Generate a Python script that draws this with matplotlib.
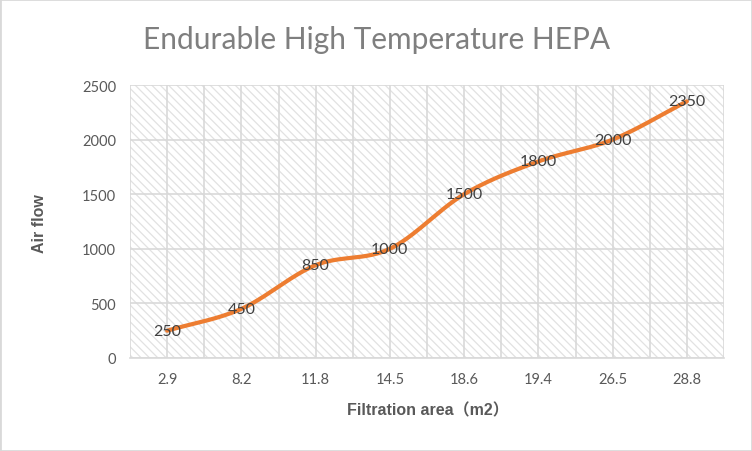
import numpy as np
import matplotlib
matplotlib.use("Agg")
import matplotlib.pyplot as plt
from matplotlib.patches import Rectangle

areas = ['2.9', '8.2', '11.8', '14.5', '18.6', '19.4', '26.5', '28.8']
air_flow = [250, 450, 850, 1000, 1500, 1800, 2000, 2350]
y_ticks = [0, 500, 1000, 1500, 2000, 2500]

plt.rcParams['font.family'] = ['Lato', 'Noto Sans CJK SC', 'DejaVu Sans']
plt.rcParams['hatch.color'] = '#e2e2e2'
plt.rcParams['hatch.linewidth'] = 0.9


def smooth(x, y, n=30):
    # catmull-rom style curve like excel's smoothed line
    x = np.asarray(x, float)
    y = np.asarray(y, float)
    px = np.concatenate([[2 * x[0] - x[1]], x, [2 * x[-1] - x[-2]]])
    py = np.concatenate([[2 * y[0] - y[1]], y, [2 * y[-1] - y[-2]]])
    xs, ys = [], []
    t = np.linspace(0, 1, n)
    for i in range(1, len(px) - 2):
        p0, p1, p2, p3 = [np.array([px[j], py[j]]) for j in range(i - 1, i + 3)]
        c1 = p1 + (p2 - p0) / 6
        c2 = p2 - (p3 - p1) / 6
        b = ((1 - t) ** 3)[:, None] * p1 + (3 * (1 - t) ** 2 * t)[:, None] * c1 \
            + (3 * (1 - t) * t ** 2)[:, None] * c2 + (t ** 3)[:, None] * p2
        xs.extend(b[:, 0])
        ys.extend(b[:, 1])
    return xs, ys


fig = plt.figure(figsize=(7.52, 4.52), dpi=100)
fig.patches.append(Rectangle((0, 0), 1, 1, transform=fig.transFigure,
                             fill=False, edgecolor='#d9d9d9', linewidth=2))
ax = fig.add_axes([130 / 752, 1 - 359 / 452, 594 / 752, 273 / 452])

ax.add_patch(Rectangle((0, 0), 1, 1, transform=ax.transAxes, facecolor='white',
                       hatch='\\\\\\\\', edgecolor='#e2e2e2', linewidth=0, zorder=0))

xi = np.arange(len(areas))
ax.set_xlim(-0.5, len(areas) - 0.5)
ax.set_ylim(0, 2500)

for gx in np.arange(-0.5, len(areas), 0.5):
    ax.axvline(gx, color='#d9d9d9', linewidth=1.2, zorder=1)
for gy in y_ticks:
    ax.axhline(gy, color='#d9d9d9', linewidth=1.2, zorder=1)

sx, sy = smooth(xi, air_flow)
ax.plot(sx, sy, color='#ed7d31', linewidth=3, solid_capstyle='round', zorder=3)

for x, v in zip(xi, air_flow):
    ax.text(x, v, str(v), ha='center', va='center', fontsize=11.5,
            color='#404040', zorder=4)

ax.set_xticks(xi)
ax.set_xticklabels(areas)
ax.set_yticks(y_ticks)
ax.tick_params(length=0, labelsize=10.5, labelcolor='#595959', pad=10)
for s in ['top', 'right', 'left']:
    ax.spines[s].set_visible(False)
ax.spines['bottom'].set_color('#d9d9d9')
ax.spines['bottom'].set_linewidth(1.2)

fig.text(377 / 752, 1 - 40 / 452, 'Endurable High Temperature HEPA', ha='center',
         va='center', fontsize=21.5, color='#7f7f7f')
fig.text(428 / 752, 1 - 411 / 452, 'Filtration area（m2）', ha='center', va='center',
         fontsize=11.5, fontweight='bold', color='#595959',
         family=['Liberation Sans', 'Noto Sans CJK SC'])
fig.text(40 / 752, 1 - 224 / 452, 'Air flow', ha='center', va='center', rotation=90,
         fontsize=11.5, fontweight='bold', color='#595959',
         family=['Liberation Sans', 'Noto Sans CJK SC'])

fig.savefig('out.png', dpi=100)
